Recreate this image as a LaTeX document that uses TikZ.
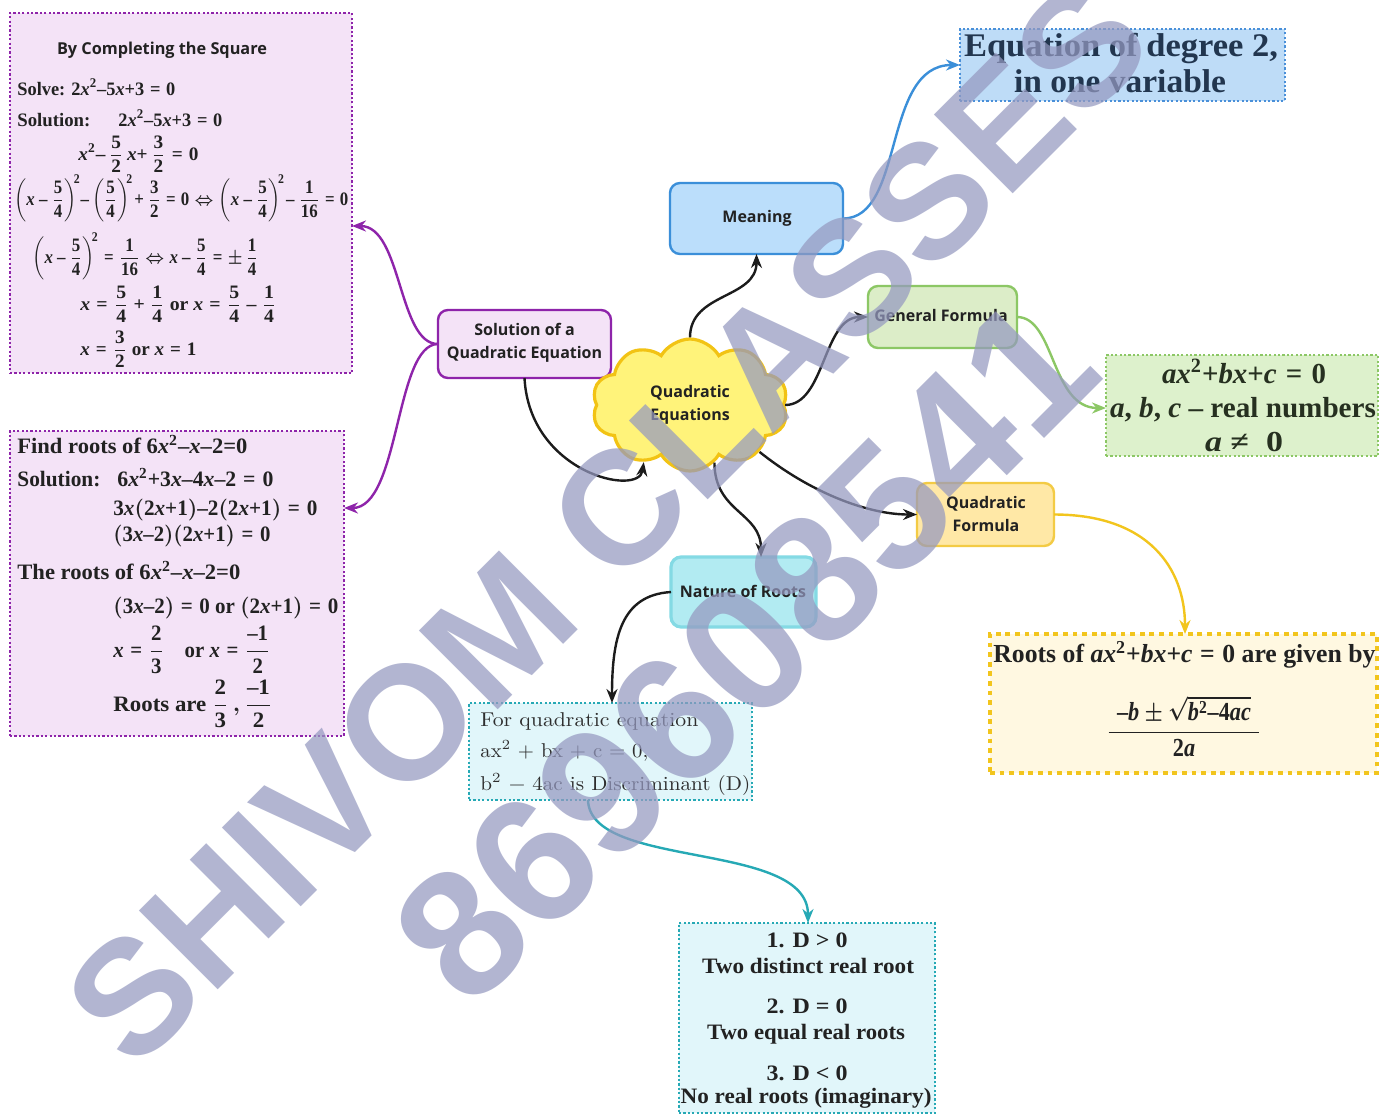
\documentclass[tikz,border=0pt]{standalone}
\usepackage{amsmath}
\usepackage[no-math]{fontspec}
\usetikzlibrary{arrows.meta,shapes.symbols,fit}
\newfontfamily\serifb[NFSSFamily=libser]{Liberation Serif}
\newfontfamily\sansb{Open Sans}
\newfontfamily\wmfont{Liberation Sans}
\DeclareSymbolFont{tlet}{TU}{libser}{m}{it}
\SetSymbolFont{tlet}{bold}{TU}{libser}{b}{it}
\DeclareSymbolFont{tnum}{TU}{libser}{m}{n}
\SetSymbolFont{tnum}{bold}{TU}{libser}{b}{n}
\DeclareMathSymbol{a}{\mathalpha}{tlet}{`a}
\DeclareMathSymbol{b}{\mathalpha}{tlet}{`b}
\DeclareMathSymbol{c}{\mathalpha}{tlet}{`c}
\DeclareMathSymbol{x}{\mathalpha}{tlet}{`x}
\DeclareMathSymbol{0}{\mathalpha}{tnum}{`0}
\DeclareMathSymbol{1}{\mathalpha}{tnum}{`1}
\DeclareMathSymbol{2}{\mathalpha}{tnum}{`2}
\DeclareMathSymbol{3}{\mathalpha}{tnum}{`3}
\DeclareMathSymbol{4}{\mathalpha}{tnum}{`4}
\DeclareMathSymbol{5}{\mathalpha}{tnum}{`5}
\DeclareMathSymbol{6}{\mathalpha}{tnum}{`6}
\DeclareMathSymbol{+}{\mathbin}{tnum}{`+}
\DeclareMathSymbol{=}{\mathrel}{tnum}{`=}
\Umathcode`\-="2 \symtnum "2013\relax
\newcommand{\fitw}[2]{\resizebox{#1}{\height}{#2}}
\definecolor{pfill}{HTML}{F4E3F7}
\definecolor{pdraw}{HTML}{8E24AA}
\definecolor{bfill}{HTML}{BBDEFB}
\definecolor{bdraw}{HTML}{3B8FD9}
\definecolor{eqfill}{HTML}{BEDCF7}
\definecolor{eqdraw}{HTML}{4A90D9}
\definecolor{gfill}{HTML}{DCEDC8}
\definecolor{gdraw}{HTML}{8CC765}
\definecolor{gbfill}{HTML}{DDF1CC}
\definecolor{yfill}{HTML}{FFE8A6}
\definecolor{ydraw}{HTML}{F3CB45}
\definecolor{ybfill}{HTML}{FFF8E1}
\definecolor{ybdraw}{HTML}{F2C51D}
\definecolor{cfill}{HTML}{B2EBF2}
\definecolor{cdraw}{HTML}{84DAE4}
\definecolor{cbfill}{HTML}{E1F6FA}
\definecolor{cbdraw}{HTML}{26A9B5}
\definecolor{cloudfill}{HTML}{FFF37A}
\definecolor{clouddraw}{HTML}{F2C314}
\definecolor{txt}{HTML}{222222}
\definecolor{navy}{HTML}{22364F}
\definecolor{dgreen}{HTML}{263020}
\definecolor{blk}{HTML}{1C1C1C}
\definecolor{wm}{HTML}{9599C0}
\begin{document}
\begin{tikzpicture}[x=0.5pt,y=-0.5pt,
  boxbase/.style={inner sep=0pt, outer sep=0pt},
  pdot/.style={boxbase, draw=pdraw, fill=pfill, line width=1.1pt, dash pattern=on 1.1pt off 1.1pt},
  bdot/.style={boxbase, draw=eqdraw, fill=eqfill, line width=1.1pt, dash pattern=on 1.1pt off 1.1pt},
  gdot/.style={boxbase, draw=gdraw, fill=gbfill, line width=1.1pt, dash pattern=on 1.1pt off 1.1pt},
  cdot/.style={boxbase, draw=cbdraw, fill=cbfill, line width=1.1pt, dash pattern=on 1.1pt off 1.1pt},
  ydash/.style={boxbase, draw=ybdraw, fill=ybfill, line width=2pt, dash pattern=on 2.4pt off 2.4pt},
  rbox/.style={boxbase, rounded corners=5pt, line width=1.2pt},
  lab/.style={inner sep=0pt, font=\sansb\bfseries\fontsize{8}{11.5}\selectfont, text=txt, align=center},
  tx/.style={inner sep=0pt, text=txt, anchor=base west},
  eqA/.style={tx, font=\serifb\bfseries\boldmath\fontsize{9.5}{11}\selectfont},
  eqB/.style={tx, font=\serifb\bfseries\boldmath\fontsize{11}{13}\selectfont},
  eqE/.style={tx, anchor=base, text=navy, font=\serifb\bfseries\boldmath\fontsize{16.5}{18}\selectfont},
  eqG/.style={tx, anchor=base, text=dgreen, font=\serifb\bfseries\boldmath\fontsize{14.5}{16}\selectfont},
  eqY/.style={tx, font=\serifb\bfseries\boldmath\fontsize{13}{15}\selectfont},
  eqD/.style={tx, anchor=base, font=\serifb\bfseries\boldmath\fontsize{11}{13}\selectfont},
  lmt/.style={tx, text=black!82, font=\rmfamily\fontsize{10}{12}\selectfont},
  arr/.style={line width=1.2pt, draw=blk, -{Stealth[length=7pt,width=5.5pt]}},
  wmst/.style={inner sep=0pt, rotate=45, text=wm, opacity=0.72, font=\wmfont\bfseries\fontsize{81}{81}\selectfont}
]
\fill[white] (0,0) rectangle (1380,1115);
\useasboundingbox (0,0) rectangle (1380,1115);

% ---------- boxes ----------
\node[pdot, fit={(10,13) (352,373)}] (cs) {};
\node[pdot, fit={(10,431) (344,736)}] (fr) {};
\node[rbox, draw=pdraw, fill=pfill, fit={(438,310) (611,378)}] (sol) {};
\node[cloud, cloud puffs=10, cloud puff arc=120, aspect=1.5, draw=clouddraw, fill=cloudfill,
      line width=1.6pt, minimum width=98pt, minimum height=66pt, inner sep=0pt] (qe) at (690,405) {};
\node[rbox, draw=bdraw, fill=bfill, fit={(670,183) (843,254)}] (mean) {};
\node[bdot, fit={(960,29) (1285,101)}] (eqd) {};
\node[rbox, draw=gdraw, fill=gfill, fit={(868,286) (1017,348)}] (gen) {};
\node[gdot, fit={(1106,355) (1378,456)}] (gbox) {};
\node[rbox, draw=ydraw, fill=yfill, fit={(917,483) (1054,546)}] (qf) {};
\node[ydash, fit={(990,634) (1377,773)}] (ybox) {};
\node[rbox, draw=cdraw, fill=cfill, line width=1.6pt, fit={(671,557) (816,627)}] (nat) {};
\node[cdot, fit={(469,703) (752,800)}] (disc) {};
\node[cdot, fit={(679,923) (935,1113)}] (dbox) {};

% ---------- node labels ----------
\node[lab] (solt) at (524.5,342.5) {Solution of a\\Quadratic Equation};
\node[lab] (qet) at (690,404.5) {Quadratic\\Equations};
\node[lab] (meant) at (757,218) {Meaning};
\node[lab] (gent) at (941,315) {General Formula};
\node[lab] (qft) at (986,513.5) {Quadratic\\Formula};
\node[lab] (natt) at (743,591) {Nature of Roots};

% ---------- completing the square ----------
\node[tx, anchor=base, font=\sansb\bfseries\fontsize{8.2}{10}\selectfont] (cs0) at (162,54) {\fitw{105pt}{By Completing the Square}};
\node[eqA] (cs1) at (17,95) {\fitw{79pt}{Solve: $2x^2{-}5x{+}3 = 0$}};
\node[eqA] (cs2) at (17,126) {\fitw{36.5pt}{Solution:}};
\node[eqA] (cs2b) at (118,126) {\fitw{52pt}{$2x^2{-}5x{+}3 = 0$}};
\node[eqA] (cs3) at (78,160) {\fitw{60pt}{$x^2{-}\,\dfrac{5}{2}\,x{+}\,\dfrac{3}{2} = 0$}};
\node[eqA] (cs4) at (14,205) {\fitw{167pt}{$\left(x-\dfrac{5}{4}\right)^{\!2}\!{-}\left(\dfrac{5}{4}\right)^{\!2}\!+\dfrac{3}{2}=0\Leftrightarrow\left(x-\dfrac{5}{4}\right)^{\!2}\!-\dfrac{1}{16}=0$}};
\node[eqA] (cs5) at (32,263) {\fitw{113pt}{$\left(x-\dfrac{5}{4}\right)^{\!2}=\dfrac{1}{16}\Leftrightarrow x-\dfrac{5}{4}=\pm\,\dfrac{1}{4}$}};
\node[eqA] (cs6) at (80,310) {\fitw{98pt}{$x=\dfrac{5}{4}+\dfrac{1}{4}$ or $x=\dfrac{5}{4}-\dfrac{1}{4}$}};
\node[eqA] (cs7) at (80,355) {\fitw{58pt}{$x=\dfrac{3}{2}$ or $x=1$}};

% ---------- find roots ----------
\node[eqB] (fr1) at (17,453) {\fitw{115pt}{Find roots of $6x^2{-}x{-}2{=}0$}};
\node[eqB] (fr2) at (17,486) {\fitw{41.5pt}{Solution:}};
\node[eqB] (fr2b) at (117,486) {\fitw{78pt}{$6x^2{+}3x{-}4x{-}2 = 0$}};
\node[eqB] (fr3) at (113,515) {\fitw{102pt}{$3x(2x{+}1){-}2(2x{+}1) = 0$}};
\node[eqB] (fr4) at (113,541) {\fitw{78.5pt}{$(3x{-}2)(2x{+}1) = 0$}};
\node[eqB] (fr5) at (17,579) {\fitw{111.5pt}{The roots of $6x^2{-}x{-}2{=}0$}};
\node[eqB] (fr6) at (113,613) {\fitw{112.5pt}{$(3x{-}2) = 0$ or $(2x{+}1) = 0$}};
\node[eqB] (fr7) at (113,657) {\fitw{78.5pt}{$x=\dfrac{2}{3}$\quad or $x=\dfrac{-1}{2}$}};
\node[eqB] (fr8) at (113,711) {\fitw{79.5pt}{Roots are $\dfrac{2}{3}\,,\dfrac{-1}{2}$}};

% ---------- equation of degree 2 ----------
\node[eqE] (eq1) at (1121,56) {\fitw{157pt}{Equation of degree 2,}};
\node[eqE] (eq2) at (1120,92) {\fitw{106pt}{in one variable}};

% ---------- general formula box ----------
\node[eqG] (g1) at (1244,383) {\fitw{82pt}{$ax^2{+}bx{+}c = 0$}};
\node[eqG] (g2) at (1243,417) {\fitw{133pt}{$a$, $b$, $c$ – real numbers}};
\node[eqG] (g3) at (1244,451) {\fitw{39pt}{\textit{a} ≠ \ 0}};

% ---------- quadratic formula box ----------
\node[eqY] (y1) at (993,662) {\fitw{191pt}{Roots of $ax^2{+}bx{+}c = 0$ are given by}};
\node[eqY, anchor=base] (y2) at (1184,738) {\fitw{77.5pt}{$\dfrac{\hspace{5pt}-b\pm\sqrt{b^{2}{-}4ac}\hspace{5pt}}{2a}$}};

% ---------- discriminant ----------
\node[lmt] (d1) at (480,726) {\fitw{109pt}{For quadratic equation}};
\node[lmt] (d2) at (480,757) {\fitw{84pt}{ax\textsuperscript{2} + bx + c = 0,}};
\node[lmt] (d3) at (480,790) {\fitw{135pt}{b\textsuperscript{2} − 4ac is Discriminant (D)}};

% ---------- D cases ----------
\node[eqD] (k1) at (807,947) {\fitw{40.5pt}{1. D > 0}};
\node[eqD] (k2) at (808,973) {\fitw{106pt}{Two distinct real root}};
\node[eqD] (k3) at (807,1013) {\fitw{40.5pt}{2. D = 0}};
\node[eqD] (k4) at (806,1039) {\fitw{99pt}{Two equal real roots}};
\node[eqD] (k5) at (807,1080) {\fitw{40.5pt}{3. D < 0}};
\node[eqD] (k6) at (806,1103) {\fitw{125.5pt}{No real roots (imaginary)}};

% ---------- connectors ----------
\draw[arr, draw=pdraw] (sol.west) .. controls +(-40,0) and +(50,0) .. (cs.east |- 0,226);
\draw[arr, draw=pdraw] (sol.west) .. controls +(-43,0) and +(56,0) .. (fr.east |- 0,508);
\draw[arr] (sol.south) .. controls +(5,95) and +(-5,35) .. (qe.231);
\draw[arr] (qe.north) .. controls +(0,-45) and +(0,45) .. (mean.south);
\draw[arr] (qe.east) .. controls +(40,0) and +(-45,0) .. (gen.west);
\draw[arr] (qe.-34) .. controls +(50,40) and +(-50,0) .. (qf.west);
\draw[arr] (qe.-67) .. controls +(0,50) and +(0,-45) .. (nat.north -| 761,0);
\draw[arr, draw=bdraw] (mean.east) .. controls +(62,0) and +(-78,0) .. (eqd.west |- 0,65);
\draw[arr, draw=gdraw] (gen.east) .. controls +(38,0) and +(-55,0) .. (gbox.west |- 0,408);
\draw[arr, draw=ybdraw] (qf.east) .. controls +(95,0) and +(0,-65) .. (ybox.north -| 1185,0);
\draw[arr] (nat.west) .. controls +(-50,3) and +(0,-65) .. (disc.north -| 612,0);
\draw[arr, draw=cbdraw] (disc.south -| 588,0) .. controls +(2,70) and +(0,-83) .. (dbox.north -| 808,0);

% ---------- watermark ----------
\node[wmst] (wm1) at (607,522) {SHIVOM CLASSES};
\node[wmst, font=\wmfont\bfseries\fontsize{90}{90}\selectfont] (wm2) at (745,650) {869608541};
\end{tikzpicture}
\end{document}
